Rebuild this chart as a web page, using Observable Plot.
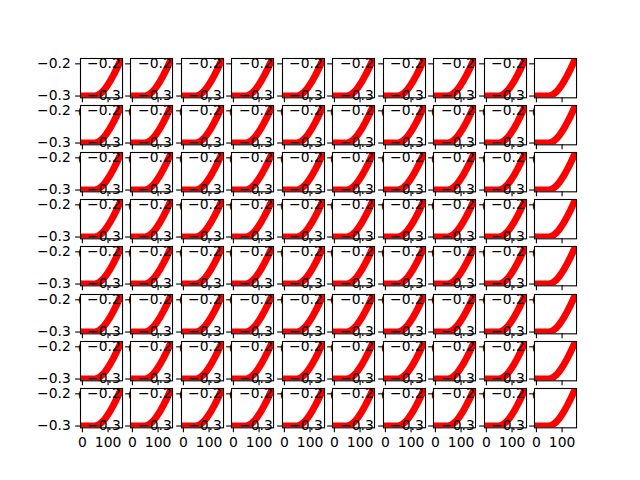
<!DOCTYPE html>
<html>
<head>
<meta charset="utf-8">
<script src="https://cdn.jsdelivr.net/npm/d3@7"></script>
<script src="https://cdn.jsdelivr.net/npm/@observablehq/plot@0.6"></script>
<style>
  html, body { margin: 0; padding: 0; background: white; }
  #fig { position: relative; width: 640px; height: 480px; overflow: hidden; background: white; }
  #fig svg { position: absolute; overflow: visible; }
</style>
</head>
<body>
<div id="fig"></div>
<script>
// Data (the same curve in every panel)
const xValues = [0, 5, 10, 15, 20, 25, 30, 35, 40, 45, 50, 55, 60, 65, 70, 75, 80, 85, 90, 95, 100, 105, 110, 115, 120, 125, 130, 135, 140, 145, 149];
const yValues = [-0.3, -0.3, -0.3, -0.3, -0.3, -0.3, -0.3, -0.3, -0.3, -0.3, -0.2994, -0.2987, -0.2972, -0.295, -0.2922, -0.2889, -0.285, -0.2806, -0.2756, -0.270, -0.2639, -0.2578, -0.2512, -0.2439, -0.2367, -0.229, -0.2212, -0.2129, -0.2045, -0.1962, -0.189];
const xTicks = [0, 100];
const yTicks = [-0.3, -0.2];
const nRows = 8;
const nCols = 10;

const data = xValues.map((x, i) => ({x, y: yValues[i]}));

// matplotlib-like autoscale with 5% margins
function padded([a, b]) { const s = b - a; return [a - 0.05 * s, b + 0.05 * s]; }
const xDomain = padded(d3.extent(xValues));
const yDomain = padded(d3.extent(yValues));

// figure layout (default subplot params)
const figW = 640, figH = 480;
const figLeft = 0.125 * figW, figRight = 0.9 * figW;
const figTop = (1 - 0.88) * figH, figBottom = (1 - 0.11) * figH;
const pw = (figRight - figLeft) / (nCols + 0.2 * (nCols - 1));
const ph = (figBottom - figTop) / (nRows + 0.2 * (nRows - 1));
const gw = 0.2 * pw, gh = 0.2 * ph;

const ml = 50, mr = 10, mt = 10, mb = 30;
const tickLen = 4.86, tickPad = 4.86;
const fig = document.getElementById("fig");

for (let r = 0; r < nRows; r++) {
  for (let c = 0; c < nCols; c++) {
    const px = figLeft + c * (pw + gw);
    const py = figTop + r * (ph + gh);
    const svg = Plot.plot({
      width: ml + pw + mr,
      height: mt + ph + mb,
      marginLeft: ml, marginRight: mr, marginTop: mt, marginBottom: mb,
      style: {background: "transparent", overflow: "visible", fontFamily: "DejaVu Sans", fontSize: "13.9px", color: "black"},
      x: {domain: xDomain},
      y: {domain: yDomain},
      marks: [
        Plot.frame({fill: "white", stroke: null}),
        Plot.line(data, {x: "x", y: "y", stroke: "red", strokeWidth: 6.9, strokeLinejoin: "round", strokeLinecap: "square", clip: true}),
        Plot.frame({stroke: "black", strokeWidth: 1.1}),
        Plot.axisX({ticks: xTicks, tickSize: tickLen, tickPadding: tickPad, label: null, tickFormat: d3.format("d"), strokeWidth: 1.1}),
        Plot.axisY({ticks: yTicks, tickSize: tickLen, tickPadding: tickPad, label: null, tickFormat: d3.format(".1f"), strokeWidth: 1.1})
      ]
    });
    svg.style.left = (px - ml) + "px";
    svg.style.top = (py - mt) + "px";
    fig.appendChild(svg);
  }
}
</script>
</body>
</html>
